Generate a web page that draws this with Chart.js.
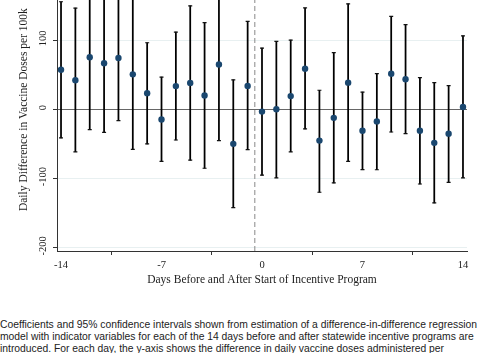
<!DOCTYPE html>
<html>
<head>
<meta charset="utf-8">
<script src="https://cdn.jsdelivr.net/npm/chart.js@4/dist/chart.umd.min.js"></script>
<style>
  body { margin: 0; background: #fff; width: 480px; height: 353px; overflow: hidden; position: relative; }
  #wrap { position: absolute; left: 0; top: -37px; width: 480px; height: 337px; }
  #note { position: absolute; left: 0; top: 319px; width: 480px; font-family: "Liberation Sans", Arial, sans-serif;
          font-size: 10.33px; line-height: 12px; color: #222; white-space: nowrap; }
</style>
</head>
<body>
<div id="wrap"><canvas id="eventChart" width="480" height="337"></canvas></div>
<div id="note">
  <div>Coefficients and 95% confidence intervals shown from estimation of a difference-in-difference regression</div>
  <div>model with indicator variables for each of the 14 days before and after statewide incentive programs are</div>
  <div>introduced. For each day, the y-axis shows the difference in daily vaccine doses administered per</div>
</div>
<script>
// days relative to program start
var days = [-14, -13, -12, -11, -10, -9, -8, -7, -6, -5, -4, -3, -2, -1,
            0, 1, 2, 3, 4, 5, 6, 7, 8, 9, 10, 11, 12, 13, 14];
// point estimates (doses per 100k)
var coef = [57.6, 42.4, 75.7, 67, 74.7, 51, 23.8, -14.3, 34, 38.6, 20.5, 65.2, -49.5, 34.3,
            -2.9, 0.5, 19.5, 59, -44.8, -11.9, 39, -30.5, -17.1, 51.9, 43.8, -30.5, -48.1, -34.8, 3.8];
// 95% CI
var ciLow = [-41, -61, -29, -33, -16, -57.6, -49.5, -75, -44, -73, -84.8, -44.8, -141.9, -58,
             -94.8, -98.6, -61, -28, -119.5, -106, -75, -86.7, -87, -32.4, -34.8, -107.6, -134.8, -105.2, -98.6];
var ciHigh = [156, 146.7, 180, 167, 165, 160, 96.7, 47, 112, 150, 125.7, 175, 42.9, 127.6,
              89, 98.6, 100.5, 147, 28, 82.4, 153, 25.2, 51.9, 134.8, 122.9, 46.2, 39, 34.8, 106.7];
var xTicks = [-14, -7, 0, 7, 14];
var yTicks = [-200, -100, 0, 100, 200];
var startLine = -0.5; // dashed line between day -1 and day 0

var serif = "'Liberation Serif', 'Times New Roman', serif";

// build the datasets from the arrays
var barData = days.map(function (d, i) { return { x: d, y: [ciLow[i], ciHigh[i]] }; });
var capData = [];
days.forEach(function (d, i) {
  capData.push({ x: d, y: ciLow[i] });
  capData.push({ x: d, y: ciHigh[i] });
});
var pointData = days.map(function (d, i) { return { x: d, y: coef[i] }; });

var ctx = document.getElementById('eventChart').getContext('2d');
var eventChart = new Chart(ctx, {
  type: 'scatter',
  data: {
    datasets: [
      {
        type: 'scatter',
        data: pointData,
        pointRadius: 3.2,
        pointBackgroundColor: '#1a476f',
        pointBorderColor: '#1a476f',
        pointBorderWidth: 0,
        order: 0
      },
      {
        type: 'scatter',
        data: capData,
        pointStyle: 'line',
        pointRadius: 2,
        pointBorderColor: '#111',
        pointBorderWidth: 1.2,
        order: 1
      },
      {
        type: 'bar',
        data: barData,
        barThickness: 1.1,
        backgroundColor: '#000',
        borderWidth: 0,
        order: 2
      },
      {
        type: 'line',
        data: [{ x: startLine, y: -204.5 }, { x: startLine, y: 204.5 }],
        borderColor: '#888',
        borderWidth: 1,
        borderDash: [5, 3],
        pointRadius: 0,
        order: 3
      }
    ]
  },
  options: {
    responsive: false,
    animation: false,
    layout: { padding: { left: 0, right: 13, top: 0, bottom: 0 } },
    plugins: { legend: { display: false }, tooltip: { enabled: false } },
    scales: {
      x: {
        type: 'linear',
        min: -14.28,
        max: 14.28,
        offset: false,
        afterBuildTicks: function (s) { s.ticks = xTicks.map(function (v) { return { value: v }; }); },
        afterFit: function (s) { s.height = 49; s.paddingLeft = 0; s.paddingRight = 0; },
        border: { color: '#333', width: 1 },
        grid: { drawOnChartArea: false, tickLength: 4, tickColor: '#333' },
        ticks: { autoSkip: false, maxRotation: 0, padding: 4, color: '#222', font: { family: serif, size: 10.5 } },
        title: {
          display: true,
          text: 'Days Before and After Start of Incentive Program',
          color: '#222',
          font: { family: serif, size: 11.5 },
          padding: { top: 0, bottom: 13 }
        }
      },
      y: {
        min: -204.5,
        max: 204.5,
        afterBuildTicks: function (s) { s.ticks = yTicks.map(function (v) { return { value: v }; }); },
        afterFit: function (s) { s.width = 57; s.paddingTop = 0; s.paddingBottom = 0; },
        border: { color: '#333', width: 1 },
        grid: {
          color: function (c) { return c.tick && c.tick.value === 0 ? '#666' : '#e8f0f1'; },
          tickLength: 4,
          tickColor: '#333'
        },
        ticks: {
          autoSkip: false,
          minRotation: 90,
          maxRotation: 90,
          crossAlign: 'center',
          padding: 0,
          labelOffset: -2,
          color: '#222',
          font: { family: serif, size: 10.5 }
        },
        title: {
          display: true,
          text: 'Daily Difference in Vaccine Doses per 100k',
          color: '#222',
          font: { family: serif, size: 11.5 },
          padding: { top: 17, bottom: 0 }
        }
      }
    }
  }
});
</script>
</body>
</html>
